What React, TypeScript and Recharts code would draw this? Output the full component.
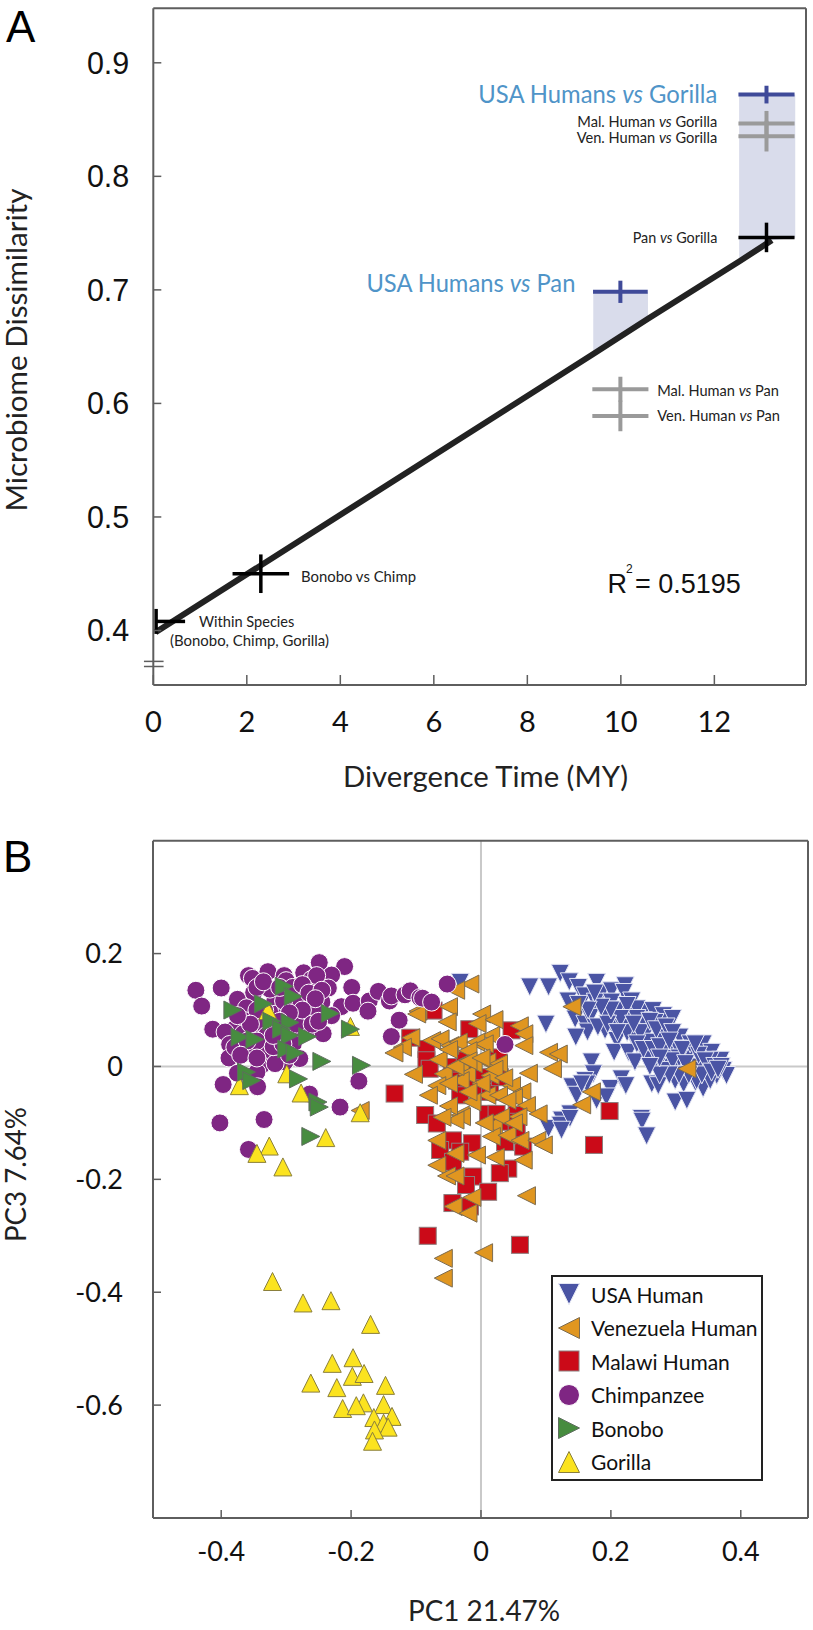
import React from "react";
import { ComposedChart, Scatter, Line, Area, XAxis, YAxis, ErrorBar, ReferenceLine, Legend } from "recharts";

// ---------- Panel A data ----------
const divergenceTicks = [0, 2, 4, 6, 8, 10, 12];
const dissimilarityTicks = [0.4, 0.5, 0.6, 0.7, 0.8, 0.9];
const trendRows = [
  { x: 0.05, trend: 0.3985 },
  { x: 9.41, trend: 0.6435, panBand: [0.6435, 0.698] },
  { x: 10.58, trend: 0.6745, panBand: [0.6745, 0.698] },
  { x: 12.53, trend: 0.725, gorillaBand: [0.725, 0.872] },
  { x: 13.23, trend: 0.7437, gorillaBand: [0.7437, 0.872] },
  { x: 13.73, gorillaBand: [0.746, 0.872] },
];
const usaCrosses = [
  { x: 13.115, y: 0.872, ex: 0.6, ey: 0.0078 },
  { x: 9.99, y: 0.6983, ex: 0.585, ey: 0.0098 },
];
const greyCrosses = [
  { x: 13.115, y: 0.8466, ex: 0.6, ey: 0.011 },
  { x: 13.115, y: 0.8354, ex: 0.6, ey: 0.0135 },
  { x: 9.99, y: 0.6125, ex: 0.6, ey: 0.011 },
  { x: 9.99, y: 0.589, ex: 0.6, ey: 0.0135 },
];
const blackCrosses = [
  { x: 13.115, y: 0.7462, ex: 0.6, ey: 0.013 },
  { x: 2.3, y: 0.45, ex: 0.605, ey: 0.017 },
  { x: 0.06, y: 0.408, ex: [0, 0.62], ey: 0.011 },
];

// ---------- Panel B data ----------
const pc1Ticks = [-0.4, -0.2, 0, 0.2, 0.4];
const pc3Ticks = [-0.6, -0.4, -0.2, 0, 0.2];
const usaHuman = [
  [0.075,0.141],[0.104,0.141],[0.122,0.165],[0.136,0.15],[0.15,0.14],[0.178,0.149],[0.16,0.125],[0.186,0.131],[0.201,0.134],[0.222,0.143],[0.22,0.131],[0.134,0.116],[0.232,0.116],[0.176,0.114],[0.201,0.114],[0.145,0.084],[0.16,0.075],[0.168,0.087],[0.164,0.061],[0.146,0.052],[0.1,0.075],[0.191,0.093],[0.206,0.09],[0.229,0.09],[0.25,0.096],[0.24,0.102],[0.265,0.099],[0.281,0.09],[0.295,0.085],[0.191,0.064],[0.204,0.069],[0.219,0.069],[0.232,0.055],[0.255,0.061],[0.276,0.052],[0.25,0.081],[0.268,0.078],[0.209,0.046],[0.205,0.025],[0.227,0.025],[0.255,0.014],[0.237,0.008],[0.258,0.043],[0.286,0.025],[0.306,0.052],[0.319,0.022],[0.322,0.04],[0.342,0.04],[0.355,0.025],[0.369,0.011],[0.353,0.011],[0.348,-0.007],[0.373,-0.007],[0.378,-0.016],[0.363,-0.016],[0.33,-0.028],[0.342,-0.039],[0.286,-0.001],[0.304,0.031],[0.271,0],[0.283,-0.007],[0.299,-0.025],[0.312,-0.031],[0.263,-0.031],[0.273,-0.034],[0.299,-0.063],[0.317,-0.06],[0.17,0.008],[0.173,-0.013],[0.16,-0.025],[0.163,-0.031],[0.14,-0.036],[0.147,-0.051],[0.178,-0.06],[0.199,-0.039],[0.216,-0.022],[0.223,-0.034],[0.137,-0.084],[0.124,-0.095],[0.247,-0.092],[0.193,-0.054],[0.155,-0.031],[0.306,-0.004],[0.322,-0.001],[0.332,-0.007],[0.353,-0.025],[0.332,-0.025],[0.104,-0.11],[0.122,-0.104],[0.137,-0.092],[0.124,-0.113],[-0.032,0.149],[0.248,-0.097],[0.255,-0.123],
  [0.21,0.1],[0.225,0.108],[0.24,0.085],[0.215,0.085],[0.225,0.06],[0.245,0.06],[0.26,0.08],[0.27,0.065],[0.285,0.07],[0.295,0.06],[0.24,0.04],[0.25,0.03],[0.265,0.03],[0.275,0.035],[0.29,0.045],[0.305,0.015],[0.295,0.01],[0.31,0.03],[0.315,0.005],[0.335,0.02],[0.345,0.01],[0.33,0.04],[0.36,0.0],[0.34,-0.015],[0.32,-0.015],[0.305,-0.015],[0.29,-0.015],[0.275,-0.015],[0.275,0.015],[0.26,0.0],[0.355,-0.01],[0.37,0.0],[0.365,-0.005],[0.235,0.075],[0.18,0.07],[0.195,0.075],[0.21,0.06],[0.2,0.1],[0.185,0.105],[0.165,0.1],[0.15,0.11],[0.175,0.13],
];
const malawiHuman = [
  [-0.073,0.099],[-0.018,0.066],[0.047,0.064],[-0.109,0.051],[-0.084,0.031],[-0.084,0.011],[-0.079,-0.004],[-0.045,-0.001],[-0.025,0.011],[0.027,0.016],[0.027,-0.016],[0.004,-0.019],[-0.037,-0.025],[-0.012,-0.039],[0.004,-0.039],[-0.032,-0.051],[0.014,-0.045],[0.029,-0.019],[-0.133,-0.048],[-0.086,-0.086],[-0.068,-0.101],[0.011,-0.084],[0.024,-0.084],[0.055,-0.086],[0.042,-0.098],[0.055,-0.11],[-0.043,-0.131],[-0.014,-0.136],[-0.063,-0.148],[-0.032,-0.151],[-0.043,-0.169],[0.037,-0.134],[0.065,-0.142],[0.042,-0.181],[0.029,-0.189],[-0.012,-0.195],[-0.023,-0.21],[0.011,-0.222],[-0.044,-0.242],[-0.017,-0.248],[-0.082,-0.3],[0.06,-0.316],[0.198,-0.079],[0.174,-0.139],
];
const venezuelaHuman = [
  [-0.017,0.146],[-0.039,0.135],[-0.05,0.106],[-0.097,0.098],[-0.052,0.079],[0.001,0.093],[-0.006,0.076],[0.02,0.083],[0.059,0.072],[0.066,0.058],[0.015,0.055],[-0.108,0.051],[0.066,0.037],[-0.076,0.046],[-0.063,0.049],[-0.048,0.037],[-0.035,0.043],[-0.008,0.043],[0.005,0.04],[-0.121,0.034],[-0.134,0.024],[-0.02,0.028],[-0.066,0.012],[0.009,0.008],[0.027,0.005],[-0.032,0.005],[-0.012,0.005],[0.073,-0.012],[-0.104,-0.014],[0.104,0.025],[0.119,0.022],[0.11,-0.004],[-0.058,-0.013],[-0.022,-0.014],[0.014,-0.016],[-0.068,-0.034],[-0.032,-0.025],[0.047,-0.034],[-0.081,-0.051],[0.009,-0.051],[0.027,-0.051],[0.063,-0.045],[0.05,-0.055],[-0.014,-0.063],[0.07,-0.069],[0.088,-0.084],[0.057,-0.089],[-0.032,-0.086],[-0.03,-0.089],[-0.04,-0.095],[0.019,-0.104],[0.016,-0.124],[0.04,-0.122],[0.06,-0.131],[0.086,-0.131],[0.096,-0.139],[-0.068,-0.131],[-0.04,-0.154],[-0.007,-0.157],[0.022,-0.161],[0.065,-0.166],[-0.068,-0.175],[-0.053,-0.194],[-0.04,-0.194],[-0.014,-0.232],[0.07,-0.229],[-0.043,-0.248],[-0.186,-0.078],[-0.099,0.093],[-0.058,-0.34],[-0.058,-0.375],[0.004,-0.33],[-0.02,-0.26],[0.14,0.106],[0.317,-0.004],[0.17,-0.045],[0.155,-0.068],
  [-0.05,0.03],[-0.04,0.0],[-0.02,0.01],[0.0,0.015],[0.02,-0.005],[0.0,-0.03],[-0.05,-0.03],[-0.02,-0.045],[0.035,-0.02],[0.04,-0.06],[0.03,-0.09],[-0.05,-0.07],[-0.06,-0.09],[0.005,-0.1],[0.05,-0.1],
];
const chimpanzee = [
  [-0.439,0.135],[-0.4,0.139],[-0.43,0.107],[-0.413,0.066],[-0.358,0.161],[-0.352,0.156],[-0.328,0.168],[-0.303,0.161],[-0.249,0.184],[-0.21,0.177],[-0.273,0.166],[-0.261,0.154],[-0.23,0.162],[-0.235,0.139],[-0.199,0.14],[-0.375,0.119],[-0.35,0.131],[-0.317,0.119],[-0.3,0.152],[-0.361,0.104],[-0.363,0.081],[-0.38,0.066],[-0.394,0.061],[-0.387,0.039],[-0.388,0.015],[-0.358,0.027],[-0.33,0.024],[-0.338,0.002],[-0.348,0.066],[-0.325,0.072],[-0.315,0.093],[-0.284,0.09],[-0.302,0.069],[-0.268,0.111],[-0.245,0.114],[-0.263,0.096],[-0.215,0.106],[-0.197,0.112],[-0.172,0.116],[-0.174,0.098],[-0.158,0.133],[-0.141,0.116],[-0.138,0.125],[-0.117,0.127],[-0.109,0.134],[-0.23,0.09],[-0.268,0.062],[-0.243,0.058],[-0.284,0.052],[-0.289,0.04],[-0.279,0.014],[-0.302,0.008],[-0.317,0.005],[-0.375,-0.012],[-0.345,-0.01],[-0.397,-0.032],[-0.344,-0.036],[-0.188,-0.026],[-0.264,-0.049],[-0.217,-0.072],[-0.126,0.082],[-0.138,0.053],[-0.402,-0.1],[-0.334,-0.094],[-0.358,-0.147],[-0.094,0.122],[-0.333,0.099],[-0.299,0.105],[-0.34,0.078],[-0.379,0.034],[-0.366,0.058],[-0.284,0.075],[-0.253,0.099],[-0.325,0.137],[-0.289,0.122],[-0.253,0.161],[-0.284,0.116],[-0.304,0.116],[0.037,0.039],[-0.052,0.146],[-0.09,0.121],[-0.076,0.114],
  [-0.345,0.14],[-0.335,0.15],[-0.31,0.14],[-0.29,0.14],[-0.275,0.145],[-0.265,0.13],[-0.245,0.135],[-0.255,0.12],[-0.275,0.1],[-0.295,0.095],[-0.31,0.08],[-0.33,0.055],[-0.345,0.045],[-0.36,0.045],[-0.37,0.02],[-0.345,0.015],[-0.32,0.035],[-0.305,0.04],[-0.295,0.02],[-0.32,0.055],[-0.26,0.075],[-0.25,0.08],[-0.345,0.1],[-0.355,0.075],[-0.375,0.09],
];
const gorilla = [
  [-0.201,0.071],[-0.328,0.099],[-0.372,-0.034],[-0.299,-0.013],[-0.277,-0.047],[-0.186,-0.082],[-0.239,-0.126],[-0.326,-0.141],[-0.345,-0.154],[-0.305,-0.178],[-0.321,-0.381],[-0.274,-0.419],[-0.231,-0.415],[-0.17,-0.457],[-0.229,-0.526],[-0.197,-0.516],[-0.198,-0.549],[-0.18,-0.544],[-0.262,-0.561],[-0.147,-0.565],[-0.222,-0.569],[-0.181,-0.596],[-0.213,-0.606],[-0.192,-0.601],[-0.15,-0.599],[-0.137,-0.62],[-0.165,-0.622],[-0.15,-0.632],[-0.143,-0.639],[-0.164,-0.644],[-0.167,-0.664],
];
const bonobo = [
  [-0.382,0.1],[-0.303,0.142],[-0.289,0.124],[-0.335,0.111],[-0.232,0.094],[-0.201,0.066],[-0.322,0.08],[-0.294,0.078],[-0.307,0.066],[-0.294,0.055],[-0.371,0.052],[-0.348,0.048],[-0.267,0.053],[-0.299,0.031],[-0.286,0.024],[-0.245,0.009],[-0.184,0.002],[-0.361,-0.01],[-0.353,-0.025],[-0.281,-0.022],[-0.251,-0.063],[-0.249,-0.072],[-0.262,-0.124],
];
const speciesNames = ["USA Human", "Venezuela Human", "Malawi Human", "Chimpanzee", "Bonobo", "Gorilla"];

const toPoints = (list: number[][]) => list.map(([x, y]) => ({ x, y }));

const MYRIAD = "Lato, 'Open Sans', sans-serif";
const ARIAL = "'Liberation Sans', Arial, sans-serif";
const AXIS = "#5e5e5e";

type MarkerKind = "down" | "left" | "square" | "circle" | "right" | "up";
const markerStyle: Record<string, { kind: MarkerKind; fill: string; stroke: string }> = {
  "USA Human": { kind: "down", fill: "#4a54a4", stroke: "#e4e6f4" },
  "Venezuela Human": { kind: "left", fill: "#e09620", stroke: "#7d6c4f" },
  "Malawi Human": { kind: "square", fill: "#cb0a18", stroke: "#8c7c7c" },
  Chimpanzee: { kind: "circle", fill: "#7f2683", stroke: "#ffffff" },
  Bonobo: { kind: "right", fill: "#478c3f", stroke: "#5e6e5e" },
  Gorilla: { kind: "up", fill: "#fbe31f", stroke: "#8a7f3c" },
};

function Marker({ cx, cy, name, s = 9 }: { cx: number; cy: number; name: string; s?: number }) {
  const { kind, fill, stroke } = markerStyle[name];
  const p = { fill, stroke, strokeWidth: 1 };
  if (kind === "circle") return <circle cx={cx} cy={cy} r={s} {...p} />;
  if (kind === "square") return <rect x={cx - s + 0.5} y={cy - s + 0.5} width={2 * s - 1} height={2 * s - 1} {...p} />;
  const pts =
    kind === "up" ? [[cx, cy - s], [cx + s, cy + s], [cx - s, cy + s]]
    : kind === "down" ? [[cx, cy + s], [cx + s, cy - s], [cx - s, cy - s]]
    : kind === "left" ? [[cx - s, cy], [cx + s, cy - s], [cx + s, cy + s]]
    : [[cx + s, cy], [cx - s, cy - s], [cx - s, cy + s]];
  return <polygon points={pts.map((q) => q.join(",")).join(" ")} {...p} />;
}

const noMark = () => null;

function SpeciesLegend() {
  return (
    <div style={{ width: 208, height: 202, border: "2px solid #222", background: "#fff", position: "relative", boxSizing: "content-box" }}>
      {speciesNames.map((n, i) => (
        <div key={n} style={{ position: "absolute", left: 0, top: i * 33.5 , height: 34, display: "flex", alignItems: "center" }}>
          <svg width={38} height={34} style={{ display: "block" }}>
            <Marker cx={16} cy={17} name={n} s={10.5} />
          </svg>
          <span style={{ font: `21px ${MYRIAD}`, color: "#111", whiteSpace: "nowrap" }}>{n}</span>
        </div>
      ))}
    </div>
  );
}

function Vs({ children }: { children: string }) {
  return <tspan fontStyle="italic">{children}</tspan>;
}

function Note({ x, y, size, anchor = "start", color = "#222", font = MYRIAD, len, rotate, children }: any) {
  const fit = len ? { textLength: len, lengthAdjust: "spacingAndGlyphs" } : {};
  const turn = rotate ? { transform: `rotate(${rotate} ${x} ${y})` } : {};
  return (
    <text x={x} y={y} fontSize={size} textAnchor={anchor} fill={color} fontFamily={font} {...fit} {...turn}>
      {children}
    </text>
  );
}

export default function App() {
  return (
    <div style={{ position: "absolute", left: 0, top: 0, width: 813, height: 1630, background: "#fff" }}>
      <div style={{ position: "absolute", left: 0, top: 0 }}>
        <ComposedChart width={813} height={800} data={trendRows} margin={{ top: 8.3, right: 7, bottom: 85, left: 53.3 }}>
          <XAxis
            dataKey="x" type="number" domain={[0, 13.96]} ticks={divergenceTicks} interval={0}
            height={30} tickSize={-10} tickMargin={36}
            axisLine={{ stroke: AXIS, strokeWidth: 2 }} tickLine={{ stroke: AXIS, strokeWidth: 1.5 }}
            tick={{ fontSize: 29, fontFamily: MYRIAD, fill: "#111" }}
          />
          <YAxis
            dataKey="y" type="number" domain={[0.352, 0.948]} ticks={dissimilarityTicks} interval={0}
            width={100} tickSize={-8} tickMargin={32}
            axisLine={{ stroke: AXIS, strokeWidth: 2 }} tickLine={{ stroke: AXIS, strokeWidth: 1.5 }}
            tick={{ fontSize: 30.5, fontFamily: ARIAL, fill: "#111" }}
          />
          <ReferenceLine x={13.96} stroke={AXIS} strokeWidth={2} ifOverflow="visible" />
          <ReferenceLine y={0.948} stroke={AXIS} strokeWidth={2} ifOverflow="visible" />
          <ReferenceLine segment={[{ x: 0, y: 0.3695 }, { x: 0, y: 0.3722 }]} stroke="#fff" strokeWidth={4} ifOverflow="visible" />
          <ReferenceLine segment={[{ x: -0.2, y: 0.3728 }, { x: 0.22, y: 0.3728 }]} stroke={AXIS} strokeWidth={1.5} ifOverflow="visible" />
          <ReferenceLine segment={[{ x: -0.2, y: 0.3683 }, { x: 0.22, y: 0.3683 }]} stroke={AXIS} strokeWidth={1.5} ifOverflow="visible" />
          <Area dataKey="panBand" type="linear" fill="#d9dceb" fillOpacity={1} stroke="none" isAnimationActive={false} dot={false} activeDot={false} />
          <Area dataKey="gorillaBand" type="linear" fill="#d9dceb" fillOpacity={1} stroke="none" isAnimationActive={false} dot={false} activeDot={false} />
          <Line dataKey="trend" type="linear" stroke="#222" strokeWidth={6} dot={false} activeDot={false} isAnimationActive={false} />
          <Scatter data={greyCrosses} shape={noMark} isAnimationActive={false}>
            <ErrorBar direction="x" dataKey="ex" width={0} stroke="#9a9a9a" strokeWidth={4} isAnimationActive={false} />
            <ErrorBar direction="y" dataKey="ey" width={0} stroke="#9a9a9a" strokeWidth={4} isAnimationActive={false} />
          </Scatter>
          <Scatter data={usaCrosses} shape={noMark} isAnimationActive={false}>
            <ErrorBar direction="x" dataKey="ex" width={0} stroke="#3f4a99" strokeWidth={4} isAnimationActive={false} />
            <ErrorBar direction="y" dataKey="ey" width={0} stroke="#3f4a99" strokeWidth={4} isAnimationActive={false} />
          </Scatter>
          <Scatter data={blackCrosses} shape={noMark} isAnimationActive={false}>
            <ErrorBar direction="x" dataKey="ex" width={0} stroke="#000" strokeWidth={3.5} isAnimationActive={false} />
            <ErrorBar direction="y" dataKey="ey" width={0} stroke="#000" strokeWidth={3.5} isAnimationActive={false} />
          </Scatter>

          <Note x={6} y={42} size={44} font={ARIAL} color="#000">A</Note>
          <Note x={27} y={350} size={28} anchor="middle" len={323} rotate={-90}>Microbiome Dissimilarity</Note>
          <Note x={485.5} y={787} size={28} anchor="middle" len={285}>Divergence Time (MY)</Note>

          <Note x={717.3} y={102.7} size={24.5} anchor="end" color="#4f94c8" len={239}>USA Humans <Vs>vs</Vs> Gorilla</Note>
          <Note x={575.4} y={292} size={24.5} anchor="end" color="#4f94c8" len={209}>USA Humans <Vs>vs</Vs> Pan</Note>
          <Note x={717.3} y={126.7} size={15} anchor="end" len={140}>Mal. Human <Vs>vs</Vs> Gorilla</Note>
          <Note x={717.3} y={143.3} size={15} anchor="end" len={140.6}>Ven. Human <Vs>vs</Vs> Gorilla</Note>
          <Note x={717.3} y={243.3} size={15} anchor="end" len={84.6}>Pan <Vs>vs</Vs> Gorilla</Note>
          <Note x={657.3} y={396} size={15} len={121.7}>Mal. Human <Vs>vs</Vs> Pan</Note>
          <Note x={657.3} y={421} size={15} len={122.7}>Ven. Human <Vs>vs</Vs> Pan</Note>
          <Note x={301} y={582} size={15} len={115}>Bonobo vs Chimp</Note>
          <Note x={199} y={627} size={15} len={95.4}>Within Species</Note>
          <Note x={170} y={646} size={15} len={159}>(Bonobo, Chimp, Gorilla)</Note>
          <Note x={607.6} y={593} size={27} font={ARIAL} color="#111">R</Note>
          <Note x={626} y={573} size={12} font={ARIAL} color="#111">2</Note>
          <Note x={635} y={593} size={27} font={ARIAL} color="#111">= 0.5195</Note>
        </ComposedChart>
      </div>

      <div style={{ position: "absolute", left: 0, top: 800 }}>
        <ComposedChart width={813} height={830} margin={{ top: 40.7, right: 5, bottom: 82, left: 53 }}>
          <XAxis
            dataKey="x" type="number" domain={[-0.505, 0.5035]} ticks={pc1Ticks} interval={0}
            height={30} tickSize={-8} tickMargin={32}
            axisLine={{ stroke: AXIS, strokeWidth: 2 }} tickLine={{ stroke: AXIS, strokeWidth: 1.5 }}
            tick={{ fontSize: 27, fontFamily: MYRIAD, fill: "#111" }}
          />
          <YAxis
            dataKey="y" type="number" domain={[-0.8, 0.4]} ticks={pc3Ticks} interval={0}
            width={100} tickSize={-8} tickMargin={38}
            axisLine={{ stroke: AXIS, strokeWidth: 2 }} tickLine={{ stroke: AXIS, strokeWidth: 1.5 }}
            tick={{ fontSize: 27, fontFamily: MYRIAD, fill: "#111" }}
          />
          <ReferenceLine x={0} stroke="#c9c9c9" strokeWidth={2} />
          <ReferenceLine y={0} stroke="#c9c9c9" strokeWidth={2} />
          <ReferenceLine x={0.5035} stroke={AXIS} strokeWidth={2} ifOverflow="visible" />
          <ReferenceLine y={0.4} stroke={AXIS} strokeWidth={2} ifOverflow="visible" />
          <Scatter name="USA Human" data={toPoints(usaHuman)} isAnimationActive={false} shape={(p: any) => <Marker cx={p.cx} cy={p.cy} name="USA Human" />} />
          <Scatter name="Malawi Human" data={toPoints(malawiHuman)} isAnimationActive={false} shape={(p: any) => <Marker cx={p.cx} cy={p.cy} name="Malawi Human" />} />
          <Scatter name="Venezuela Human" data={toPoints(venezuelaHuman)} isAnimationActive={false} shape={(p: any) => <Marker cx={p.cx} cy={p.cy} name="Venezuela Human" />} />
          <Scatter name="Chimpanzee" data={toPoints(chimpanzee)} isAnimationActive={false} shape={(p: any) => <Marker cx={p.cx} cy={p.cy} name="Chimpanzee" />} />
          <Scatter name="Gorilla" data={toPoints(gorilla)} isAnimationActive={false} shape={(p: any) => <Marker cx={p.cx} cy={p.cy} name="Gorilla" />} />
          <Scatter name="Bonobo" data={toPoints(bonobo)} isAnimationActive={false} shape={(p: any) => <Marker cx={p.cx} cy={p.cy} name="Bonobo" />} />
          <Legend
            layout="vertical" align="center" verticalAlign="middle"
            content={() => <SpeciesLegend />}
            wrapperStyle={{ left: 551, top: 475, width: 212, height: 206, bottom: "auto", right: "auto" }}
          />
          <Note x={3} y={72} size={44} font={ARIAL} color="#000">B</Note>
          <Note x={26} y={374.5} size={28} anchor="middle" len={135} rotate={-90}>PC3 7.64%</Note>
          <Note x={484} y={821} size={28} anchor="middle" len={152}>PC1 21.47%</Note>
        </ComposedChart>
      </div>
    </div>
  );
}
